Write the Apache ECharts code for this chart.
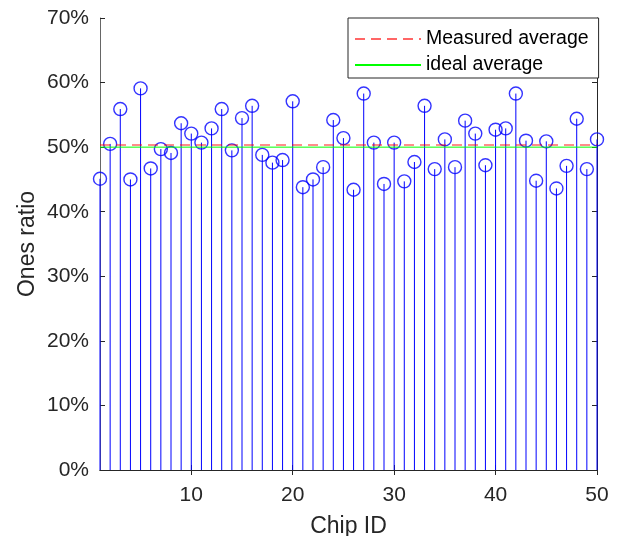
<!DOCTYPE html>
<html>
<head>
<meta charset="utf-8">
<script src="https://cdn.jsdelivr.net/npm/echarts@6/dist/echarts.min.js"></script>
<style>
  html, body { margin: 0; padding: 0; background: #fff; }
  #chart { width: 621px; height: 536px; }
</style>
</head>
<body>
<div id="chart"></div>
<script>
// Chip IDs 1..50 and the measured ratio of ones (percent) for each chip
const chipIds = Array.from({ length: 50 }, (_, i) => i + 1);
const onesRatio = [
  45.1, 50.5, 55.9, 45.0, 59.1, 46.7, 49.7, 49.1, 53.7, 52.1,
  50.7, 52.9, 55.9, 49.5, 54.5, 56.4, 48.8, 47.6, 48.0, 57.1,
  43.8, 45.0, 46.9, 54.2, 51.4, 43.4, 58.3, 50.7, 44.3, 50.7,
  44.7, 47.7, 56.4, 46.6, 51.2, 46.9, 54.1, 52.1, 47.2, 52.7,
  52.9, 58.3, 51.0, 44.8, 50.9, 43.6, 47.1, 54.4, 46.6, 51.2
];
const idealAverage = 50;
const xTicks = [10, 20, 30, 40, 50];
const seriesNames = ['Measured average', 'ideal average'];

const measuredAverage = onesRatio.reduce((a, b) => a + b, 0) / onesRatio.length;
const points = chipIds.map((id, i) => [id, onesRatio[i]]);
const xMin = chipIds[0];
const xMax = chipIds[chipIds.length - 1];

const FONT = '"Liberation Sans", Arial, Helvetica, sans-serif';
const AXIS = '#262626';

const chart = echarts.init(document.getElementById('chart'), null, { renderer: 'canvas' });

const boxAxisX = (position, showLabels) => ({
  type: 'value',
  position,
  min: xMin,
  max: xMax,
  axisLine: { show: true, lineStyle: { color: AXIS, width: 1 } },
  axisTick: { show: true, inside: true, length: 5, customValues: xTicks, lineStyle: { color: AXIS } },
  axisLabel: showLabels
    ? { show: true, customValues: xTicks, margin: 15, fontFamily: FONT, fontSize: 21, color: AXIS }
    : { show: false },
  splitLine: { show: false },
  name: showLabels ? 'Chip ID' : '',
  nameLocation: 'middle',
  nameGap: 45,
  nameTextStyle: { fontFamily: FONT, fontSize: 23, color: AXIS }
});

const boxAxisY = (position, showLabels) => ({
  type: 'value',
  position,
  min: 0,
  max: 70,
  interval: 10,
  axisLine: { show: true, lineStyle: { color: position === 'left' ? '#666' : AXIS, width: 1 } },
  axisTick: { show: true, inside: true, length: 5, lineStyle: { color: AXIS } },
  axisLabel: showLabels
    ? { show: true, formatter: '{value}%', margin: 11, fontFamily: FONT, fontSize: 21, color: AXIS }
    : { show: false },
  splitLine: { show: false },
  name: showLabels ? 'Ones ratio' : '',
  nameLocation: 'middle',
  nameRotate: 90,
  nameGap: 61,
  nameMoveOverlap: false,
  nameTextStyle: { fontFamily: FONT, fontSize: 23, color: AXIS }
});

chart.setOption({
  backgroundColor: '#ffffff',
  animation: false,
  grid: { left: 100, right: 24, top: 18, bottom: 66, containLabel: false, outerBoundsMode: 'none' },
  xAxis: [boxAxisX('bottom', true), boxAxisX('top', false)],
  yAxis: [boxAxisY('left', true), boxAxisY('right', false)],
  legend: {
    data: seriesNames,
    orient: 'vertical',
    left: 348,
    top: 18,
    width: 248,
    padding: [11, 10, 3, 6],
    itemGap: 6,
    itemWidth: 66,
    itemHeight: 14,
    backgroundColor: '#ffffff',
    borderColor: AXIS,
    borderWidth: 1,
    borderRadius: 0,
    // line samples only, no marker in the middle
    itemStyle: { opacity: 0 },
    textStyle: { fontFamily: FONT, fontSize: 19.5, color: '#000', lineHeight: 20 }
  },
  series: [
    {
      // vertical stems from zero to each value
      type: 'custom',
      name: 'stems',
      xAxisIndex: 0,
      yAxisIndex: 0,
      data: points,
      z: 2,
      renderItem: (params, api) => {
        const x = api.value(0);
        const y = api.value(1);
        const p0 = api.coord([x, 0]);
        const p1 = api.coord([x, y]);
        return {
          type: 'line',
          shape: { x1: p0[0], y1: p0[1], x2: p1[0], y2: p1[1] },
          style: { stroke: '#0000ff', lineWidth: 1 }
        };
      }
    },
    {
      type: 'scatter',
      name: 'chips',
      xAxisIndex: 0,
      yAxisIndex: 0,
      data: points,
      symbol: 'circle',
      symbolSize: 13,
      z: 3,
      itemStyle: { color: 'rgba(0,0,0,0)', borderColor: '#0000ff', borderWidth: 1.4 }
    },
    {
      type: 'line',
      name: seriesNames[0],
      xAxisIndex: 0,
      yAxisIndex: 0,
      data: [[xMin, measuredAverage], [xMax, measuredAverage]],
      symbol: 'none',
      z: 4,
      lineStyle: { color: 'rgba(255,0,0,0.6)', width: 1.5, type: [10, 6] },
      itemStyle: { color: 'rgba(255,0,0,0.6)' }
    },
    {
      type: 'line',
      name: seriesNames[1],
      xAxisIndex: 0,
      yAxisIndex: 0,
      data: [[xMin, idealAverage], [xMax, idealAverage]],
      symbol: 'none',
      z: 4,
      lineStyle: { color: '#00ff00', width: 1 },
      itemStyle: { color: '#00ff00' }
    }
  ]
});
</script>
</body>
</html>
